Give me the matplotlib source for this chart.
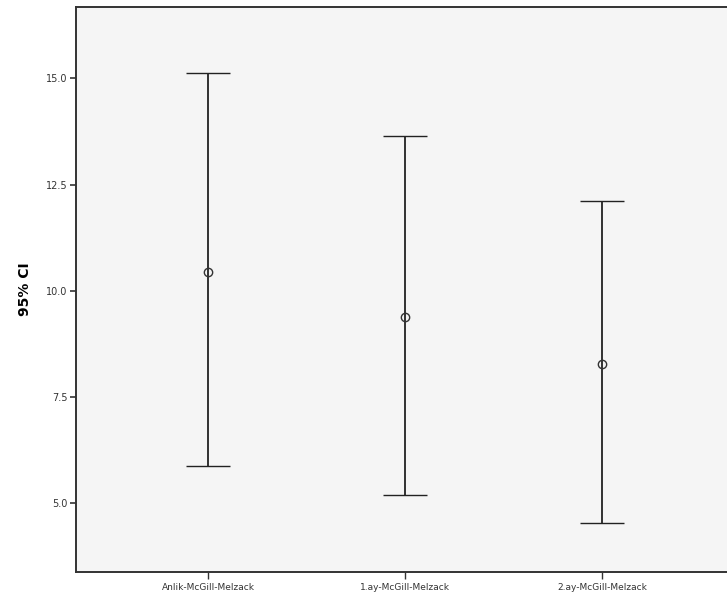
import numpy as np
import matplotlib.pyplot as plt

groups = ["Anlik-McGill-Melzack", "1.ay-McGill-Melzack", "2.ay-McGill-Melzack"]
means = [10.45, 9.39, 8.27]
ci_low = [5.87, 5.20, 4.53]
ci_high = [15.12, 13.64, 12.12]

x = np.arange(len(groups))
means = np.array(means)
yerr = [means - np.array(ci_low), np.array(ci_high) - means]

fig = plt.figure(figsize=(7.27, 6.0), dpi=100)
# axes run off the right edge of the figure
ax = fig.add_axes([76 / 727, 28 / 600, 660 / 727, 565 / 600])
ax.set_facecolor("#f5f5f5")

ax.errorbar(x, means, yerr=yerr, fmt="o", mfc="none", mec="#333333",
            ms=6, mew=1.0, ecolor="#222222", elinewidth=1.3,
            capsize=16, capthick=1.3)

ax.set_xlim(-0.67, 2.68)
ax.set_ylim(3.38, 16.68)
ax.set_yticks([5.0, 7.5, 10.0, 12.5, 15.0])
ax.set_yticklabels(["5.0", "7.5", "10.0", "12.5", "15.0"])
ax.set_xticks(x)
ax.set_xticklabels(groups)
ax.tick_params(axis="y", labelsize=7, length=4, width=1.2, colors="#333333", pad=2)
ax.tick_params(axis="x", labelsize=6.5, length=5, width=1.0, colors="#333333", pad=3)

for side in ["left", "bottom", "top"]:
    ax.spines[side].set_linewidth(1.4)
    ax.spines[side].set_color("#333333")
ax.spines["right"].set_visible(False)

ax.set_ylabel("95% CI", fontsize=10, fontweight="bold", labelpad=10)

fig.savefig("out.png", dpi=100)
plt.close(fig)
